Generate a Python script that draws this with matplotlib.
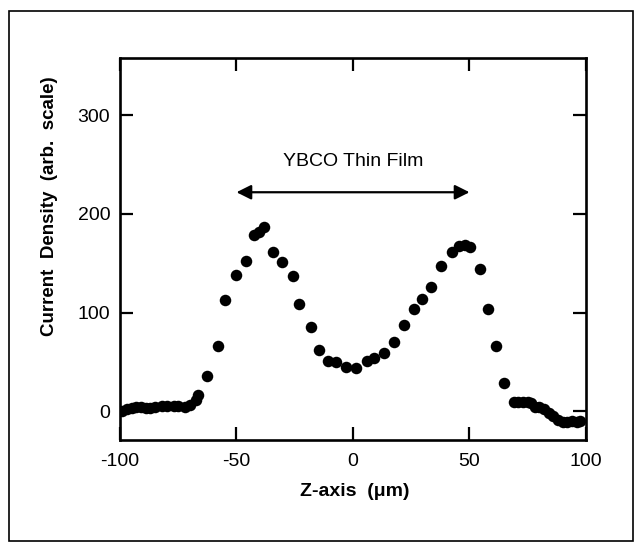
import matplotlib
matplotlib.use("Agg")
import matplotlib.pyplot as plt
from matplotlib.patches import Rectangle

plt.rcParams["font.family"] = ["Liberation Sans", "DejaVu Sans"]
plt.rcParams["axes.unicode_minus"] = False

# Z position (um) and current density (arb. scale)
z_um = [-99, -97, -95, -93, -91, -89, -87, -85, -82, -80, -77, -75, -72, -70,
        -67.5, -66.5, -62.6, -58.0, -55.0, -50.4, -45.8, -42.3, -40.4, -38.0,
        -34.3, -30.4, -25.7, -23.0, -18.2, -14.4, -10.6, -7.2, -3.2, 1.1,
        6.1, 8.9, 13.2, 17.5, 22.1, 26.1, 29.7, 33.6, 37.9, 42.6, 45.4, 47.9,
        50.4, 54.3, 57.9, 61.2, 65.0, 69, 71, 73, 75, 76.5, 78, 80, 82, 84,
        86, 88, 90, 92, 94, 96, 97.5]
current = [0, 2, 3, 4, 4, 3, 3, 4, 5, 5, 5, 5, 4, 6,
           12, 17, 35.5, 66, 112.7, 138, 152.3, 178.7, 182, 186.5,
           161.7, 151.6, 137.4, 108.3, 85.6, 62.6, 51.1, 50.1, 45, 44.3,
           50.8, 54.1, 59.2, 70.4, 88, 104.2, 113.4, 125.6, 147.5, 161.7, 167.8, 168.5,
           166.2, 144.2, 104.2, 66.3, 29.1, 9, 9, 10, 9, 8, 4, 4, 2, -2,
           -5, -9, -11, -11, -10, -11, -10]

x_ticks = [-100, -50, 0, 50, 100]
y_ticks = [0, 100, 200, 300]

fig = plt.figure(figsize=(6.36, 5.42), dpi=100)
ax = fig.add_axes([120 / 636, 1 - 440 / 542, 466 / 636, 382 / 542])

ax.plot(z_um, current, "o", color="black", markersize=8.3, markeredgewidth=0)

ax.annotate("", xy=(-50, 222), xytext=(50, 222),
            arrowprops=dict(arrowstyle="<|-|>", lw=1.6, color="black",
                            mutation_scale=22, shrinkA=0, shrinkB=0))
ax.text(0, 253, "YBCO Thin Film", ha="center", va="center", fontsize=14)

ax.set_xlim(-100, 100)
ax.set_ylim(-29, 358)
ax.set_xticks(x_ticks)
ax.set_yticks(y_ticks)
ax.tick_params(direction="in", length=9.5, width=1.6, top=True, right=True,
               labelsize=14)
ax.tick_params(axis="x", pad=9)
ax.tick_params(axis="y", pad=7)
for sp in ax.spines.values():
    sp.set_linewidth(1.9)

fig.text(355 / 636, 1 - 492 / 542, "Z-axis  (\u03bcm)", ha="center", va="center",
         fontsize=14, fontweight="bold")
fig.text(50 / 636, 1 - 206 / 542, "Current  Density  (arb.  scale)", ha="center",
         va="center", rotation=90, fontsize=13.5, fontweight="bold")

# scanned page frame
fig.patches.append(Rectangle((9 / 636, 1 - 541 / 542), 624 / 636, 530 / 542,
                             transform=fig.transFigure, fill=False,
                             edgecolor="black", linewidth=1.2))

fig.savefig("out.png", dpi=100)
